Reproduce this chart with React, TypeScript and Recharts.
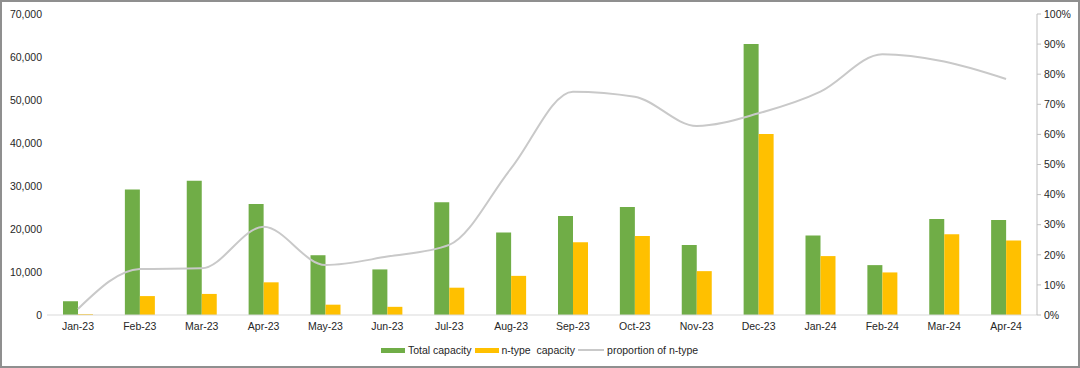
import React from "react";
import {
  ComposedChart,
  Bar,
  Line,
  XAxis,
  YAxis,
} from "recharts";

// Monthly capacity (left axis) and n-type share (right axis)
const months = [
  "Jan-23", "Feb-23", "Mar-23", "Apr-23", "May-23", "Jun-23", "Jul-23", "Aug-23",
  "Sep-23", "Oct-23", "Nov-23", "Dec-23", "Jan-24", "Feb-24", "Mar-24", "Apr-24",
];
const totalCapacity = [
  3200, 29200, 31200, 25800, 13900, 10600, 26200, 19200,
  23000, 25100, 16300, 63000, 18500, 11600, 22300, 22100,
];
const nTypeCapacity = [
  200, 4400, 4900, 7600, 2400, 1900, 6350, 9100,
  16900, 18400, 10200, 42100, 13700, 9900, 18800, 17300,
];
const nTypeShare = [
  0.02, 0.153, 0.155, 0.293, 0.166, 0.194, 0.233, 0.487,
  0.742, 0.725, 0.628, 0.67, 0.742, 0.866, 0.842, 0.784,
];
const leftTicks = [0, 10000, 20000, 30000, 40000, 50000, 60000, 70000];
const rightTicks = [0, 0.1, 0.2, 0.3, 0.4, 0.5, 0.6, 0.7, 0.8, 0.9, 1];

const GREEN = "#70ad47";
const YELLOW = "#ffc000";
const GREY_LINE = "#c9c9c9";
const FONT = "'Liberation Sans', Arial, sans-serif";

const rows = months.map((m, i) => ({
  month: m,
  total: totalCapacity[i],
  ntype: nTypeCapacity[i],
  share: nTypeShare[i],
}));

const tickStyle = { fontSize: 10.5, fill: "#262626", fontFamily: FONT };

function LegendRow() {
  const item = (swatch: React.ReactNode, label: string) => (
    <span style={{ display: "inline-flex", alignItems: "center", marginRight: 3 }}>
      {swatch}
      <span style={{ marginLeft: 3, whiteSpace: "pre" }}>{label}</span>
    </span>
  );
  const box = (c: string) => (
    <span style={{ display: "inline-block", width: 24, height: 5, background: c }} />
  );
  return (
    <div
      style={{
        position: "absolute",
        top: 343,
        left: 0,
        width: 1080,
        display: "flex",
        justifyContent: "center",
        fontFamily: FONT,
        fontSize: 10.5,
        color: "#262626",
        lineHeight: "14px",
        paddingLeft: 2,
        boxSizing: "border-box",
      }}
    >
      {item(box(GREEN), "Total capacity")}
      {item(box(YELLOW), "n-type  capacity")}
      {item(
        <span style={{ display: "inline-block", width: 26, height: 2, background: GREY_LINE }} />,
        "proportion of n-type"
      )}
    </div>
  );
}

export default function App() {
  return (
    <div style={{ position: "fixed", left: 0, top: 0, width: 1080, height: 368, background: "#fff" }}>
      <ComposedChart
        width={1080}
        height={368}
        data={rows}
        margin={{ top: 14, right: 0, bottom: 23, left: 0 }}
        barGap={0}
        barCategoryGap="25%"
      >
        <XAxis
          dataKey="month"
          tickLine={false}
          axisLine={{ stroke: "#d9d9d9" }}
          tick={tickStyle}
          height={30}
          interval={0}
        />
        <YAxis
          yAxisId="cap"
          width={47}
          domain={[0, 70000]}
          ticks={leftTicks}
          tickFormatter={(v: number) => v.toLocaleString("en-US")}
          axisLine={false}
          tickLine={false}
          tickSize={3}
          tickMargin={2}
          tick={tickStyle}
        />
        <YAxis
          yAxisId="pct"
          orientation="right"
          width={43}
          domain={[0, 1]}
          ticks={rightTicks}
          tickFormatter={(v: number) => `${Math.round(v * 100)}%`}
          axisLine={{ stroke: "#bfbfbf" }}
          tickLine={{ stroke: "#bfbfbf" }}
          tickSize={4}
          tickMargin={3}
          tick={tickStyle}
        />
        <Bar yAxisId="cap" dataKey="total" fill={GREEN} barSize={15} isAnimationActive={false} />
        <Bar yAxisId="cap" dataKey="ntype" fill={YELLOW} barSize={15} isAnimationActive={false} />
        <Line
          yAxisId="pct"
          dataKey="share"
          type="monotone"
          stroke={GREY_LINE}
          strokeWidth={2}
          dot={false}
          activeDot={false}
          isAnimationActive={false}
        />
      </ComposedChart>
      <LegendRow />
      <div
        style={{
          position: "absolute",
          inset: 0,
          border: "2px solid #8f8f8f",
          pointerEvents: "none",
        }}
      />
    </div>
  );
}
